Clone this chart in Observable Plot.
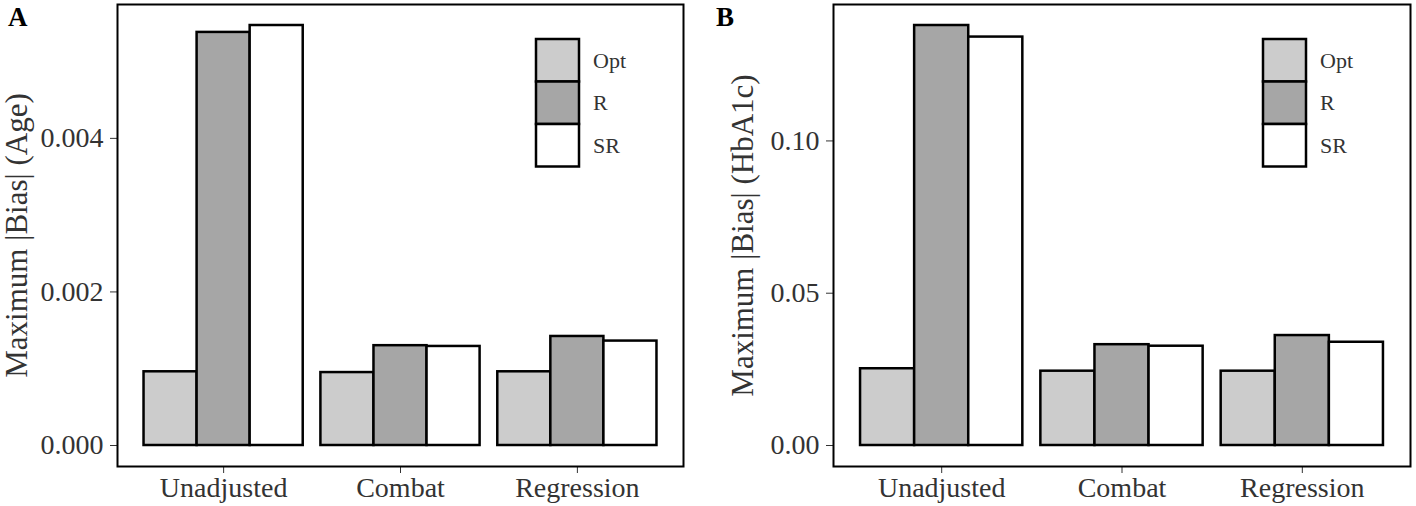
<!DOCTYPE html>
<html><head><meta charset="utf-8">
<script src="https://cdn.jsdelivr.net/npm/d3@7"></script>
<script src="https://cdn.jsdelivr.net/npm/@observablehq/plot@0.6"></script>
<style>
body{margin:0;background:#fff;font-family:"Liberation Serif",serif;}
#wrap{position:relative;width:1416px;height:506px;display:flex;}
.panel{position:relative;width:708px;height:506px;}
.overlay{position:absolute;left:0;top:0;pointer-events:none;}
</style></head><body>
<div id="wrap"><div class="panel" id="pa"></div><div class="panel" id="pb"></div></div>
<script>
// ---- data ----
const groups = ["Unadjusted", "Combat", "Regression"];
const methods = ["Opt", "R", "SR"];
const fills = ["#cccccc", "#a6a6a6", "#ffffff"];
// Panel A: Maximum |Bias| (Age)
const ageOpt = [0.00096, 0.00095, 0.00096];
const ageR   = [0.00538, 0.00130, 0.00142];
const ageSR  = [0.00547, 0.00129, 0.00136];
const ageTicks = [0, 0.002, 0.004];
// Panel B: Maximum |Bias| (HbA1c)
const hbOpt = [0.0252, 0.0244, 0.0244];
const hbR   = [0.1379, 0.0331, 0.0361];
const hbSR  = [0.1341, 0.0326, 0.0339];
const hbTicks = [0, 0.05, 0.10];

// dodge geometry (as ggplot: group width 0.9, discrete expansion 0.6)
const groupWidth = 0.9;
const barWidth = groupWidth / methods.length;

function panel(el, tag, series, cfg) {
  const data = [];
  groups.forEach((g, i) => methods.forEach((m, j) => data.push({group: g, method: m, gi: i, mi: j, value: series[j][i]})));
  const max = d3.max(data, d => d.value);
  const left = d => d.gi + 1 - groupWidth / 2 + d.mi * barWidth;
  const chart = Plot.plot({
    width: 708, height: 506,
    marginLeft: cfg.marginLeft, marginRight: cfg.marginRight, marginTop: 4, marginBottom: 40,
    style: {fontFamily: "Liberation Serif, serif", fontSize: "28px", color: "#333", background: "white", overflow: "visible"},
    x: {domain: [0.4, groups.length + 0.6], ticks: groups.map((g, i) => i + 1), tickFormat: v => groups[v - 1],
        tickSize: 7, tickPadding: 4, label: null},
    y: {domain: [-0.05 * max, 1.05 * max], ticks: cfg.ticks, tickFormat: d3.format(cfg.fmt), tickSize: 7, tickPadding: 7,
        label: cfg.label, labelAnchor: "center", labelOffset: cfg.labelOffset, labelArrow: "none"},
    color: {domain: methods, range: fills},
    marks: [
      Plot.rectY(data, {x1: left, x2: d => left(d) + barWidth, y1: 0, y2: "value", fill: "method", stroke: "black", strokeWidth: 2.5}),
      Plot.frame({stroke: "black", strokeWidth: 2})
    ]
  });
  const lab = chart.querySelector('[aria-label="y-axis label"]');
  if (lab) lab.style.fontSize = "31px";
  el.appendChild(chart);

  // overlay: panel tag + legend
  const ov = d3.select(el).append("svg").attr("class", "overlay").attr("width", 708).attr("height", 506);
  ov.append("text").attr("x", 8).attr("y", 26).attr("font-size", 27).attr("font-weight", "bold")
    .attr("font-family", "Liberation Serif, serif").attr("fill", "black").text(tag);
  const lg = ov.append("g").attr("transform", `translate(${cfg.legendX},39)`);
  const kh = 42.5, kw = 43;
  methods.forEach((m, i) => {
    lg.append("rect").attr("x", 0).attr("y", i * kh).attr("width", kw).attr("height", kh)
      .attr("fill", fills[i]).attr("stroke", "black").attr("stroke-width", 2.5);
    lg.append("text").attr("x", kw + 14).attr("y", i * kh + kh / 2).attr("dy", "0.35em")
      .attr("font-size", 22).attr("font-family", "Liberation Serif, serif").attr("fill", "#333").text(m);
  });
}

panel(document.getElementById("pa"), "A", [ageOpt, ageR, ageSR],
  {marginLeft: 117, marginRight: 25, ticks: ageTicks, fmt: ".3f", label: "Maximum |Bias| (Age)", labelOffset: 113, legendX: 536});
panel(document.getElementById("pb"), "B", [hbOpt, hbR, hbSR],
  {marginLeft: 125, marginRight: 6, ticks: hbTicks, fmt: ".2f", label: "Maximum |Bias| (HbA1c)", labelOffset: 103, legendX: 555});
</script>
</body></html>
